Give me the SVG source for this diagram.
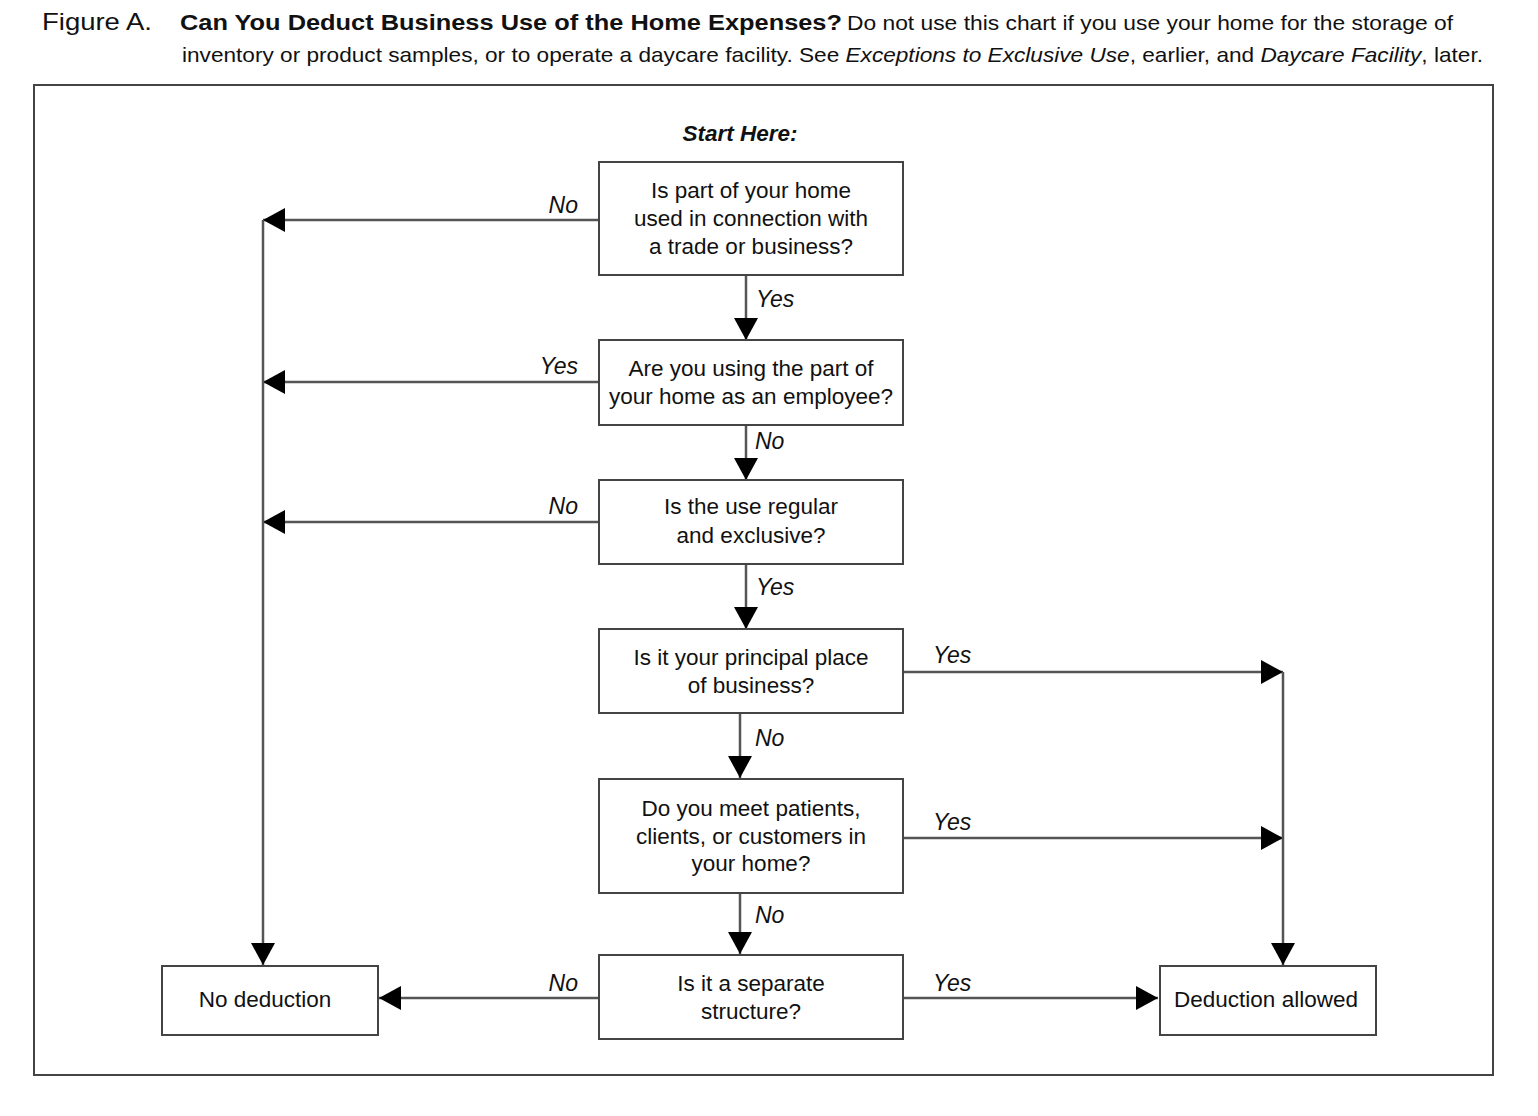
<svg xmlns="http://www.w3.org/2000/svg" width="1538" height="1116" viewBox="0 0 1538 1116">
<defs>
<marker id="ah" markerUnits="userSpaceOnUse" markerWidth="22" markerHeight="24" refX="22" refY="12" orient="auto" viewBox="0 0 22 24">
<path d="M0,0 L22,12 L0,24 Z" fill="#000"/>
</marker>
<style>
.t{font-family:"Liberation Sans",Arial,sans-serif;font-size:22.5px;fill:#111;}
.c{text-anchor:middle;}
.lbl{font-family:"Liberation Sans",Arial,sans-serif;font-size:23px;font-style:italic;fill:#111;}
.box{fill:#fff;stroke:#444;stroke-width:2;}
.ln{fill:none;stroke:#555;stroke-width:2.5;}
.arr{marker-end:url(#ah);}
</style>
</defs>
<rect width="1538" height="1116" fill="#fff"/>
<g id="title">
<text class="t" x="42" y="30" style="font-size:24px" textLength="110" lengthAdjust="spacingAndGlyphs">Figure A.</text>
<text class="t" x="180" y="30" style="font-size:22px;font-weight:bold" textLength="662" lengthAdjust="spacingAndGlyphs">Can You Deduct Business Use of the Home Expenses?</text>
<text class="t" x="847" y="30" style="font-size:21px" textLength="606" lengthAdjust="spacingAndGlyphs">Do not use this chart if you use your home for the storage of</text>
<text class="t" x="182" y="62" style="font-size:21px" textLength="1301" lengthAdjust="spacingAndGlyphs">inventory or product samples, or to operate a daycare facility. See <tspan font-style="italic">Exceptions to Exclusive Use</tspan>, earlier, and <tspan font-style="italic">Daycare Facility</tspan>, later.</text>
</g>
<rect id="frame" x="34" y="85" width="1459" height="990" fill="none" stroke="#444" stroke-width="2"/>
<text class="t c" x="740" y="141" style="font-weight:bold;font-style:italic">Start Here:</text>
<g id="connectors">
<path class="ln arr" d="M599,220 H263"/>
<path class="ln arr" d="M599,382 H263"/>
<path class="ln arr" d="M599,522 H263"/>
<path class="ln arr" d="M263,220 V965"/>
<path class="ln arr" d="M746,275 V340"/>
<path class="ln arr" d="M746,425 V480"/>
<path class="ln arr" d="M746,564 V629"/>
<path class="ln arr" d="M740,713 V778"/>
<path class="ln arr" d="M740,893 V954"/>
<path class="ln arr" d="M903,672 H1283"/>
<path class="ln arr" d="M903,838 H1283"/>
<path class="ln arr" d="M1283,672 V965"/>
<path class="ln arr" d="M599,998 H379"/>
<path class="ln arr" d="M903,998 H1158"/>
<text class="lbl" x="578" y="213" text-anchor="end">No</text>
<text class="lbl" x="578" y="374" text-anchor="end">Yes</text>
<text class="lbl" x="578" y="514" text-anchor="end">No</text>
<text class="lbl" x="578" y="991" text-anchor="end">No</text>
<text class="lbl" x="756" y="307">Yes</text>
<text class="lbl" x="755" y="449">No</text>
<text class="lbl" x="756" y="595">Yes</text>
<text class="lbl" x="755" y="746">No</text>
<text class="lbl" x="755" y="923">No</text>
<text class="lbl" x="933" y="663">Yes</text>
<text class="lbl" x="933" y="830">Yes</text>
<text class="lbl" x="933" y="991">Yes</text>
</g>
<g id="q1">
<rect class="box" x="599" y="162" width="304" height="113"/>
<text class="t c" x="751" y="198">Is part of your home</text>
<text class="t c" x="751" y="226">used in connection with</text>
<text class="t c" x="751" y="254">a trade or business?</text>
</g>
<g id="q2">
<rect class="box" x="599" y="340" width="304" height="85"/>
<text class="t c" x="751" y="376">Are you using the part of</text>
<text class="t c" x="751" y="404">your home as an employee?</text>
</g>
<g id="q3">
<rect class="box" x="599" y="480" width="304" height="84"/>
<text class="t c" x="751" y="514">Is the use regular</text>
<text class="t c" x="751" y="543">and exclusive?</text>
</g>
<g id="q4">
<rect class="box" x="599" y="629" width="304" height="84"/>
<text class="t c" x="751" y="665">Is it your principal place</text>
<text class="t c" x="751" y="693">of business?</text>
</g>
<g id="q5">
<rect class="box" x="599" y="779" width="304" height="114"/>
<text class="t c" x="751" y="816">Do you meet patients,</text>
<text class="t c" x="751" y="844">clients, or customers in</text>
<text class="t c" x="751" y="871">your home?</text>
</g>
<g id="q6">
<rect class="box" x="599" y="955" width="304" height="84"/>
<text class="t c" x="751" y="991">Is it a separate</text>
<text class="t c" x="751" y="1019">structure?</text>
</g>
<g id="no-deduction">
<rect class="box" x="162" y="966" width="216" height="69"/>
<text class="t c" x="265" y="1007">No deduction</text>
</g>
<g id="deduction-allowed">
<rect class="box" x="1160" y="966" width="216" height="69"/>
<text class="t c" x="1266" y="1007">Deduction allowed</text>
</g>
</svg>
